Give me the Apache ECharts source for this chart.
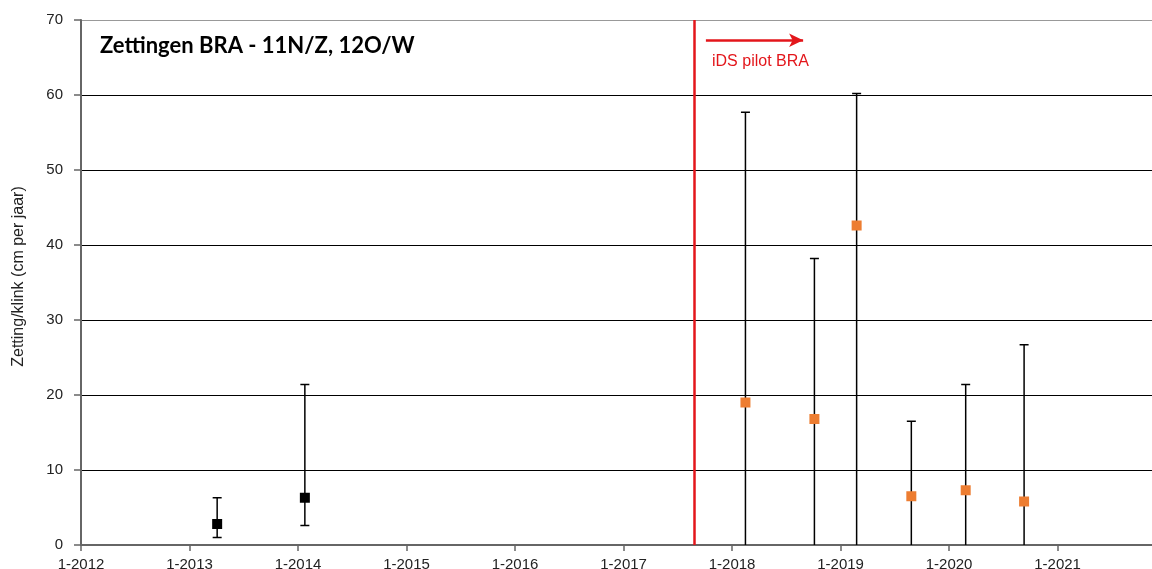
<!DOCTYPE html>
<html>
<head>
<meta charset="utf-8">
<script src="https://cdn.jsdelivr.net/npm/echarts@6/dist/echarts.min.js"></script>
<style>html,body{margin:0;padding:0;background:#fff}#c{width:1152px;height:569px}</style>
</head>
<body>
<div id="c"></div>
<script>
// ---- data ----
const yearTicks = [2012, 2013, 2014, 2015, 2016, 2017, 2018, 2019, 2020, 2021];
const blackDates = ['2013-04-04', '2014-01-24'];
const blackValues = [2.8, 6.3];
const blackLow = [1.0, 2.6];
const blackHigh = [6.3, 21.4];
const orangeDates = ['2018-02-15', '2018-10-05', '2019-02-24', '2019-08-27', '2020-02-26', '2020-09-10'];
const orangeValues = [19.0, 16.8, 42.6, 6.5, 7.3, 5.8];
const orangeLow = [0, 0, 0, 0, 0, 0];
const orangeHigh = [57.7, 38.2, 60.2, 16.5, 21.4, 26.7];
const pilotStart = '2017-08-28';
const arrowFrom = '2017-10-05';
const arrowTo = '2018-08-28';
const arrowLevel = 67.3;
const title = 'Zettingen BRA - 11N/Z, 12O/W';
const pilotLabel = 'iDS pilot BRA';
const yName = 'Zetting/klink (cm per jaar)';

function dy(s) {
  const d = new Date(s + 'T00:00:00Z');
  const y = d.getUTCFullYear();
  return y + (d - Date.UTC(y, 0, 1)) / (Date.UTC(y + 1, 0, 1) - Date.UTC(y, 0, 1));
}

function errData(dates, lo, hi) {
  return dates.map((d, i) => [dy(d), lo[i], hi[i]]);
}

function errRender(capW) {
  return function (params, api) {
    const x = api.value(0);
    const lo = api.coord([x, api.value(1)]);
    const hi = api.coord([x, api.value(2)]);
    const st = { stroke: '#000', lineWidth: 1.5 };
    const children = [
      { type: 'line', shape: { x1: lo[0], y1: lo[1], x2: hi[0], y2: hi[1] }, style: st },
      { type: 'line', shape: { x1: hi[0] - capW / 2, y1: hi[1], x2: hi[0] + capW / 2, y2: hi[1] }, style: st }
    ];
    if (api.value(1) > 0) {
      children.push({ type: 'line', shape: { x1: lo[0] - capW / 2, y1: lo[1], x2: lo[0] + capW / 2, y2: lo[1] }, style: st });
    }
    return { type: 'group', children: children };
  };
}

const chart = echarts.init(document.getElementById('c'));
chart.setOption({
  animation: false,
  backgroundColor: '#fff',
  grid: { left: 81, right: 0, top: 20, bottom: 24, containLabel: false, outerBoundsMode: 'none' },
  graphic: [
    { type: 'text', left: 100, top: 35, style: { text: title, font: 'bold 22px Lato', fill: '#000' } },
    { type: 'text', left: 712, top: 54, style: { text: pilotLabel, font: '16px "Liberation Sans"', fill: '#e3161b' } }
  ],
  xAxis: {
    type: 'value',
    min: 2012,
    max: 2021.87,
    interval: 1,
    axisLine: { lineStyle: { color: '#666', width: 2 } },
    axisTick: { show: true, length: 6, lineStyle: { color: '#666', width: 1.5 } },
    splitLine: { show: false },
    axisLabel: {
      color: '#222', fontSize: 15, fontFamily: 'Liberation Sans', margin: 12,
      showMaxLabel: false,
      formatter: v => yearTicks.includes(Math.round(v)) ? '1-' + Math.round(v) : ''
    }
  },
  yAxis: {
    type: 'value',
    min: 0, max: 70, interval: 10,
    name: yName,
    nameLocation: 'middle',
    nameGap: 54,
    nameTextStyle: { fontSize: 16, fontFamily: 'Liberation Sans', color: '#222', padding: [0, 0, 0, 12] },
    axisLine: { show: true, lineStyle: { color: '#666', width: 2 } },
    axisTick: { show: true, length: 7, lineStyle: { color: '#666', width: 1.5 } },
    splitLine: { show: true, lineStyle: { color: ['#000', '#000', '#000', '#000', '#000', '#000', '#000', '#999'], width: 1.2 } },
    axisLabel: { color: '#222', fontSize: 15, fontFamily: 'Liberation Sans', margin: 18 }
  },
  series: [
    {
      type: 'custom', name: 'err-black', clip: true, z: 3,
      renderItem: errRender(9),
      encode: { x: 0, y: [1, 2] },
      data: errData(blackDates, blackLow, blackHigh)
    },
    {
      type: 'custom', name: 'err-orange', clip: true, z: 3,
      renderItem: errRender(9),
      encode: { x: 0, y: [1, 2] },
      data: errData(orangeDates, orangeLow, orangeHigh)
    },
    {
      type: 'scatter', name: 'black', symbol: 'rect', symbolSize: 10, z: 5,
      itemStyle: { color: '#000', opacity: 1 },
      data: blackDates.map((d, i) => [dy(d), blackValues[i]])
    },
    {
      type: 'scatter', name: 'orange', symbol: 'rect', symbolSize: 10, z: 5,
      itemStyle: { color: '#ed7d31', opacity: 1 },
      data: orangeDates.map((d, i) => [dy(d), orangeValues[i]]),
      markLine: {
        silent: true, animation: false,
        data: [
          [{ coord: [dy(pilotStart), 0], symbol: 'none' }, { coord: [dy(pilotStart), 70], symbol: 'none' }],
          [{ coord: [dy(arrowFrom), arrowLevel], symbol: 'none' }, { coord: [dy(arrowTo), arrowLevel], symbol: 'arrow', symbolSize: [10, 14] }]
        ],
        lineStyle: { color: '#e3161b', width: 2.5, type: 'solid' },
        label: { show: false }
      }
    }
  ]
});
</script>
</body>
</html>
